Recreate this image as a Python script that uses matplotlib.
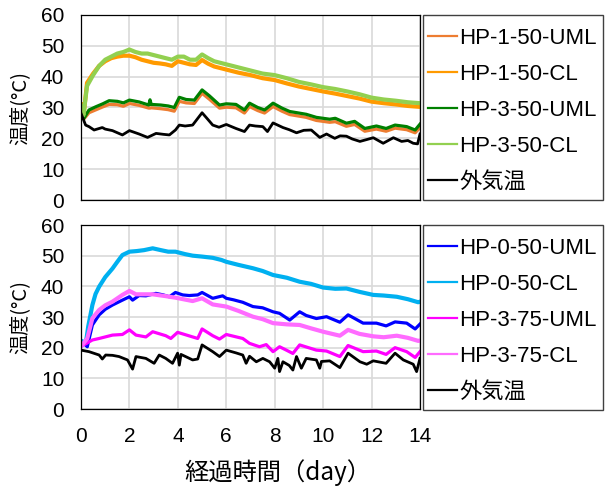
import matplotlib
matplotlib.use("Agg")
import matplotlib.pyplot as plt
import matplotlib.patches as patches

plt.rcParams['font.family'] = ['Liberation Sans', 'Noto Sans CJK JP']

# --- data ---
# top panel
t_top_cl = [0, 0.1, 0.25, 0.5, 0.75, 1.0, 1.25, 1.5, 1.75, 2.0, 2.25, 2.5, 2.75, 3.0, 3.25,
            3.5, 3.75, 4.0, 4.25, 4.5, 4.75, 5.0, 5.25, 5.5, 5.75, 6.0, 6.5, 7.0, 7.5, 8.0,
            8.5, 9.0, 9.5, 10.0, 10.5, 11.0, 11.5, 12.0, 12.5, 13.0, 13.5, 14.0]
hp1_50_cl = [31, 27, 38, 41, 43.5, 45, 46, 46.5, 46.8, 46.8, 46.3, 45.5, 45, 44.5, 44.3,
             44, 43.5, 45, 44.5, 44, 43.8, 45.4, 44.2, 43.3, 42.8, 42.3, 41.3, 40.5, 39.5, 38.9,
             37.8, 36.8, 36, 35.2, 34.5, 33.7, 32.9, 31.9, 31.4, 31, 30.5, 30.2]
hp3_50_cl = [30.5, 27.5, 37, 40.5, 43.5, 45.5, 46.5, 47.5, 48, 48.8, 48, 47.5, 47.5, 47, 46.5,
             46, 45.5, 46.5, 46.5, 45.5, 45.5, 47.2, 46, 45, 44.5, 44, 43, 42, 41, 40.5,
             39.5, 38.3, 37.5, 36.6, 36, 35.2, 34.3, 33.2, 32.6, 32.2, 31.7, 31.4]

t_top_uml = [0, 0.12, 0.33, 0.6, 0.9, 1.16, 1.5, 1.75, 2.0, 2.4, 2.8, 2.85, 2.9, 3.3, 3.6,
             3.85, 4.06, 4.34, 4.68, 5.0, 5.3, 5.72, 6.0, 6.4, 6.75, 6.96, 7.3, 7.58, 7.93, 8.3,
             8.62, 9.0, 9.3, 9.72, 10.27, 10.5, 10.96, 11.3, 11.72, 12.2, 12.6, 12.97, 13.45, 13.8, 14.0]
hp1_50_uml = [30.8, 26.3, 28.3, 29.2, 30.2, 31.0, 30.9, 30.4, 31.3, 30.7, 29.8, 29.8, 29.9, 29.6, 29.3,
              28.8, 32.0, 31.5, 31.3, 34.6, 32.7, 29.8, 30.1, 29.9, 28.2, 30.3, 29, 28.2, 30.3, 28.8,
              27.7, 27.2, 26.8, 25.8, 25.2, 25.4, 23.9, 24.5, 22.3, 23, 22.3, 23.3, 22.8, 21.8, 23.5]
hp3_50_uml = [30.3, 26.5, 29.2, 30.2, 31.2, 32.2, 32, 31.5, 32.4, 31.8, 30.8, 32.5, 31, 30.8, 30.5,
              30, 33.3, 32.6, 32.4, 35.7, 33.8, 30.8, 31.2, 31, 29.2, 31.4, 30, 29.2, 31.4, 29.8,
              28.7, 28.2, 27.8, 26.8, 26.2, 26.5, 24.9, 25.5, 23.2, 24, 23.2, 24.3, 23.8, 22.7, 24.6]

t_top_air = [0, 0.19, 0.33, 0.54, 0.88, 1.0, 1.3, 1.71, 2.0, 2.4, 2.75, 3.1, 3.4, 3.65, 3.9,
             4.06, 4.3, 4.61, 5.0, 5.2, 5.44, 5.7, 6.0, 6.4, 6.75, 6.96, 7.2, 7.51, 7.7, 7.93,
             8.34, 8.6, 8.9, 9.2, 9.51, 9.86, 10.14, 10.48, 10.7, 10.96, 11.2, 11.52, 11.8, 12.07, 12.48,
             12.9, 13.24, 13.5, 13.72, 13.9, 14.0]
air_top = [28.1, 24.3, 23.8, 22.7, 23.5, 23, 22.5, 21.1, 22.5, 21.4, 20.3, 21.6, 21.3, 21.1, 22.7,
           24.3, 24, 24.3, 28.3, 26.5, 24.3, 23.6, 24.5, 23.2, 22.2, 24.3, 24, 23.8, 22.2, 25,
           23.5, 22.8, 21.8, 22.6, 22.7, 20.3, 21.4, 20, 20.8, 20.7, 19.8, 19, 19.6, 20.2, 18.4,
           20.2, 19, 19.3, 18.4, 18.2, 21.4]

# bottom panel
t_hp0_uml = [0, 0.26, 0.47, 0.75, 1.0, 1.3, 1.71, 2.0, 2.13, 2.4, 2.68, 3.09, 3.4, 3.65, 3.9,
             4.2, 4.47, 4.82, 5.0, 5.44, 5.85, 6.0, 6.3, 6.68, 7.1, 7.5, 7.93, 8.2, 8.62, 9.03,
             9.3, 9.72, 10.14, 10.69, 11.03, 11.65, 12.2, 12.6, 12.97, 13.45, 13.8, 14.0]
hp0_50_uml = [22.3, 20.3, 27.4, 30.7, 32.5, 33.9, 35.5, 36.6, 35.5, 37, 36.9, 37.7, 37.2, 36.6, 38,
              37.2, 37, 37.2, 38, 36.1, 36.9, 36.1, 35.6, 34.8, 33.4, 33, 31.7, 31.2, 29, 31.7,
              30.5, 29.5, 30.1, 28.3, 30.7, 28, 28, 27.1, 28.4, 28, 26.1, 27.7]

t_hp0_cl = [0, 0.2, 0.3, 0.47, 0.6, 0.75, 1.0, 1.3, 1.5, 1.71, 2.0, 2.3, 2.6, 2.96, 3.3,
            3.6, 3.9, 4.3, 4.61, 5.0, 5.44, 5.8, 6.0, 6.5, 7.1, 7.5, 7.93, 8.5, 9.03, 9.5,
            10.0, 10.5, 10.96, 11.5, 12.07, 12.5, 13.04, 13.5, 13.93, 14.0]
hp0_50_cl = [22.3, 21.5, 27, 33.9, 37.5, 39.9, 43, 45.8, 48, 50.2, 51.3, 51.5, 51.8, 52.4, 51.8,
             51.3, 51.3, 50.5, 50, 49.7, 49.3, 48.6, 48, 47, 45.9, 45, 43.7, 42.8, 41.5, 40.8,
             39.6, 39.2, 39.3, 38.2, 37.2, 37, 36.6, 35.8, 34.8, 35]

t_hp3_75_uml = [0, 0.47, 0.75, 1.3, 1.71, 2.0, 2.27, 2.68, 2.96, 3.5, 3.71, 3.99, 4.61, 4.82, 5.0,
                5.44, 5.72, 6.0, 6.68, 6.96, 7.37, 7.65, 7.93, 8.2, 8.48, 8.75, 9.03, 9.72, 10.14, 10.69,
                11.03, 11.65, 12.2, 12.6, 12.97, 13.45, 13.8, 14.0]
hp3_75_uml = [20.4, 22.5, 23, 24.1, 24.3, 25.8, 24.1, 23.5, 25.2, 23.9, 23, 25, 23.5, 23, 26.1,
              23.9, 22.8, 24.3, 23, 21.4, 20.3, 21, 18.7, 20.3, 19.2, 18.1, 20.9, 19.2, 18.9, 17.1,
              20.7, 18.7, 18.9, 17.8, 20, 18.7, 16.8, 18.7]

t_hp3_75_cl = [0, 0.26, 0.47, 0.75, 1.0, 1.3, 1.71, 2.0, 2.27, 2.96, 3.5, 3.9, 4.61, 5.0, 5.44,
               6.0, 6.5, 7.1, 7.5, 7.93, 8.5, 9.03, 9.5, 10.0, 10.69, 11.03, 11.5, 12.07, 12.5, 13.04,
               13.5, 13.93, 14.0]
hp3_75_cl = [20.4, 23, 29.6, 32.3, 33.8, 35, 37.2, 38.5, 37.4, 37.4, 36.8, 36.3, 35.2, 36.1, 34.1,
             33.4, 32, 30.1, 29.3, 28, 27.6, 27.4, 26.3, 25.2, 23.9, 25.8, 24.5, 23.7, 23.4, 23.9,
             23.2, 22.2, 22.3]

t_bot_air = [0, 0.33, 0.75, 0.88, 1.02, 1.3, 1.57, 1.92, 2.13, 2.27, 2.68, 3.02, 3.23, 3.5, 3.78,
             3.99, 4.06, 4.13, 4.4, 4.61, 4.82, 5.0, 5.44, 5.72, 6.0, 6.4, 6.68, 6.82, 6.96, 7.24,
             7.51, 7.79, 8.0, 8.13, 8.2, 8.34, 8.6, 8.75, 8.9, 9.1, 9.3, 9.72, 9.86, 9.93, 10.27,
             10.69, 11.03, 11.52, 11.8, 12.07, 12.6, 12.97, 13.31, 13.72, 13.86, 14.0]
air_bot = [19.2, 18.7, 17.6, 16.3, 17.6, 17.5, 17.1, 16, 13, 17.1, 16.5, 14.9, 17.6, 16.5, 14.9,
           18.2, 14.3, 17.8, 16.8, 16, 16.3, 20.9, 18.7, 17.1, 19.2, 18.3, 17.6, 14.9, 17.2, 15.4,
           16.5, 15.4, 13.3, 16.5, 12.2, 15.4, 14.2, 12.7, 17.1, 13.3, 16.5, 16, 13.3, 15.5, 15.7,
           13.5, 18.2, 15.4, 14.6, 15.7, 14.9, 18.2, 16, 14.6, 12.2, 16.5]

xticks = [0, 2, 4, 6, 8, 10, 12, 14]
yticks = [0, 10, 20, 30, 40, 50, 60]

top_series = [
    (t_top_uml, hp1_50_uml, 'HP-1-50-UML', '#ED7D31', 2.3),
    (t_top_cl, hp1_50_cl, 'HP-1-50-CL', '#FF9A00', 3.0),
    (t_top_uml, hp3_50_uml, 'HP-3-50-UML', '#008000', 2.3),
    (t_top_cl, hp3_50_cl, 'HP-3-50-CL', '#92D050', 3.0),
    (t_top_air, air_top, '外気温', 'black', 2.0),
]
bot_series = [
    (t_hp0_uml, hp0_50_uml, 'HP-0-50-UML', '#0000FF', 2.3),
    (t_hp0_cl, hp0_50_cl, 'HP-0-50-CL', '#00B0F0', 3.0),
    (t_hp3_75_uml, hp3_75_uml, 'HP-3-75-UML', '#FF00FF', 2.3),
    (t_hp3_75_cl, hp3_75_cl, 'HP-3-75-CL', '#FF6BFF', 3.0),
    (t_bot_air, air_bot, '外気温', 'black', 2.0),
]

W, H = 605, 486
fig = plt.figure(figsize=(W / 100, H / 100), dpi=100)

# axes boxes in pixel coords (left, top, right, bottom)
panels = [(81, 15, 420, 200), (81, 225, 420, 409)]
legend_boxes = [(423, 15, 603, 200), (423, 225, 603, 410)]

for i, (series, (l, t, r, b), (ll, lt, lr, lb)) in enumerate(zip([top_series, bot_series], panels, legend_boxes)):
    ax = fig.add_axes([l / W, 1 - b / H, (r - l) / W, (b - t) / H])
    for tt, vv, lab, col, lw in series:
        ax.plot(tt, vv, color=col, lw=lw, label=lab, solid_joinstyle='round')

    ax.set_xlim(0, 14)
    ax.set_ylim(0, 60)
    ax.set_xticks(xticks)
    ax.set_yticks(yticks)
    ax.grid(color='#d9d9d9', lw=1.2)
    ax.set_axisbelow(True)
    ax.tick_params(length=0, labelsize=15)
    ax.tick_params(axis='y', pad=12)
    ax.tick_params(axis='x', pad=13)
    for sp in ax.spines.values():
        sp.set_color('black')
        sp.set_linewidth(0.9)

    ax.set_ylabel('温度(°C)', fontsize=14.5, family=['Noto Sans CJK JP'])
    ax.yaxis.set_label_coords(-0.15, 0.5)

    if i == 0:
        ax.tick_params(labelbottom=False)
    else:
        ax.set_xlabel('経過時間（day）', fontsize=17.5, family=['Noto Sans CJK JP'])
        ax.xaxis.set_label_coords(0.58, -0.275)

    # legend frame drawn separately so the box matches exactly
    fig.add_artist(patches.Rectangle((ll / W, 1 - lb / H), (lr - ll) / W, (lb - lt) / H,
                                     transform=fig.transFigure, fill=False,
                                     ec='#404040', lw=1.0))
    leg = ax.legend(loc='center left', bbox_to_anchor=((ll + 5) / W, 1 - ((lt + lb) / 2 + 3) / H),
                    bbox_transform=fig.transFigure, frameon=False, borderpad=0,
                    borderaxespad=0, handlelength=1.3, handletextpad=0.12,
                    labelspacing=0.68, prop={'size': 16})
    for ln in leg.get_lines():
        ln.set_linewidth(1.6)

plt.savefig('out.png', dpi=100)
plt.close()
